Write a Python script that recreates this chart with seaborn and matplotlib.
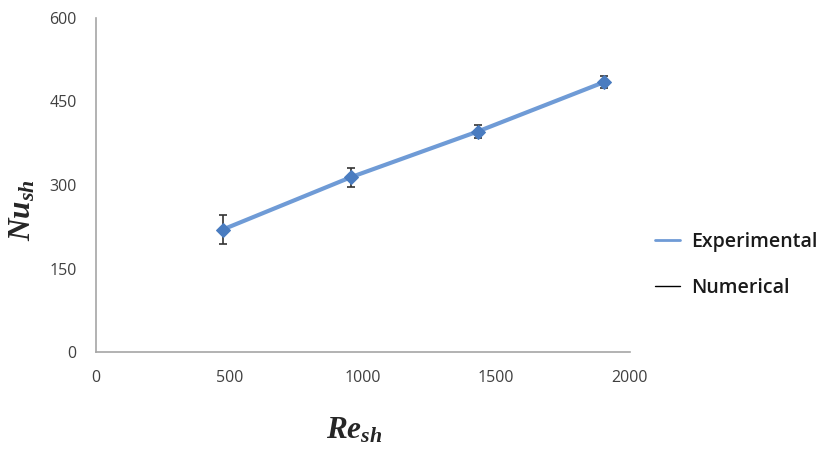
import numpy as np
import pandas as pd
import matplotlib
matplotlib.use("Agg")
import matplotlib.pyplot as plt
import seaborn as sns

# data
re_sh = [475, 955, 1430, 1905]
nu_exp = [220, 314, 396, 485]
nu_err = [26, 17, 11, 10]
re_num = []
nu_num = []

x_ticks = [0, 500, 1000, 1500, 2000]
y_ticks = [0, 150, 300, 450, 600]

sns.set_style("white")
plt.rcParams['font.family'] = ['Open Sans', 'DejaVu Sans']
plt.rcParams['mathtext.fontset'] = 'custom'
plt.rcParams['mathtext.it'] = 'Liberation Serif:italic:bold'
plt.rcParams['mathtext.rm'] = 'Liberation Serif:bold'

df = pd.DataFrame({"Re": re_sh, "Nu": nu_exp})

fig = plt.figure(figsize=(8.21, 4.49), dpi=100)
ax = fig.add_axes([0.117, 0.216, 0.65, 0.744])

ax.errorbar(re_sh, nu_exp, yerr=nu_err, fmt="none", ecolor="#333333",
            elinewidth=1.2, capsize=3, capthick=1.2, zorder=2)
sns.lineplot(data=df, x="Re", y="Nu", ax=ax, color="#6f9bd6", linewidth=3,
             marker="D", markersize=7.5, markerfacecolor="#4a7cc0",
             markeredgecolor="#4a7cc0", label="Experimental", zorder=3)
ax.plot(re_num, nu_num, color="black", linewidth=1, label="Numerical")

ax.set_xlim(0, 2000)
ax.set_ylim(0, 600)
ax.set_xticks(x_ticks)
ax.set_yticks(y_ticks)
ax.tick_params(axis="both", length=0, labelsize=11.5, labelcolor="#404040")
ax.tick_params(axis="x", pad=13)
ax.tick_params(axis="y", pad=14)
for s in ["top", "right"]:
    ax.spines[s].set_visible(False)
for s in ["left", "bottom"]:
    ax.spines[s].set_color("#a6a6a6")
    ax.spines[s].set_linewidth(1.2)

ax.set_xlabel(r"$Re_{sh}$", fontsize=22.5)
ax.set_ylabel(r"$Nu_{sh}$", fontsize=22.5)
ax.xaxis.set_label_coords(0.483, -0.19)
ax.yaxis.set_label_coords(-0.11, 0.425)

leg = ax.legend(loc="center left", bbox_to_anchor=(1.032, 0.26), frameon=False,
                borderaxespad=0, fontsize=14, handlelength=1.3,
                handletextpad=0.6, labelspacing=1.35)
for h in leg.legend_handles:
    h.set_marker("")
leg.legend_handles[0].set_linewidth(2)
for t in leg.get_texts():
    t.set_fontweight("semibold")
    t.set_color("#1a1a1a")

fig.savefig("out.png", dpi=100)
